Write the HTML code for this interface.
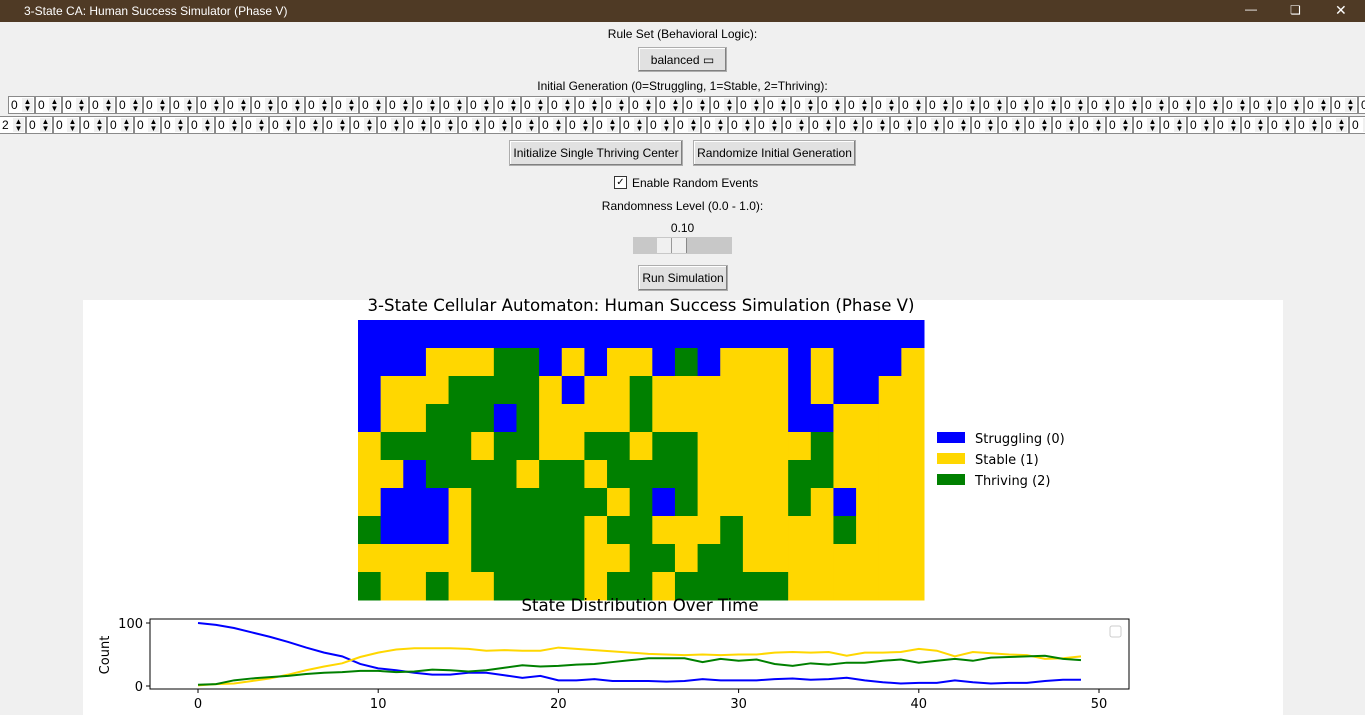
<!DOCTYPE html>
<html><head><meta charset="utf-8">
<style>
body{margin:0;width:1365px;height:715px;overflow:hidden;background:#f0f0f0;font-family:"Liberation Sans",sans-serif;font-size:12px;position:relative}
.abs{position:absolute}
.titlebar{left:0;top:0;width:1365px;height:22px;background:#4f3a25;color:#fff;font-size:12px}
.lbl{text-align:center;width:1365px;left:0;color:#000}
.btn{background:#e1e1e1;border:1px solid #adadad;box-shadow:inset -1px -1px #808080,inset 1px 1px #fff;text-align:center;box-sizing:border-box;line-height:24px}
.spin{width:27px;height:18px;box-sizing:border-box;border:1px solid #8a8a8a;background:#fff;font-size:12px;line-height:16px;padding-left:2px}
.spin span{position:absolute;right:1px;top:1px;width:11px;height:14px;background:#f0f0f0;font-size:8px;line-height:7px;text-align:center}
</style></head><body>
<div class="abs titlebar"><span class="abs" style="left:24px;top:4px">3-State CA: Human Success Simulator (Phase V)</span><span class="abs" style="left:1245px;top:2px">&#8212;</span><span class="abs" style="left:1290px;top:3px">&#10063;</span><span class="abs" style="left:1335px;top:2px;font-size:14px">&#10005;</span></div>
<div class="abs lbl" style="top:27px">Rule Set (Behavioral Logic):</div>
<div class="abs btn" style="left:638px;top:47px;width:89px;height:25px">balanced &#9645;</div>
<div class="abs lbl" style="top:79px">Initial Generation (0=Struggling, 1=Stable, 2=Thriving):</div>
<div id="spins"></div>
<div class="abs btn" style="left:509px;top:140px;width:174px;height:26px">Initialize Single Thriving Center</div>
<div class="abs btn" style="left:693px;top:140px;width:163px;height:26px">Randomize Initial Generation</div>
<div class="abs" style="left:614px;top:176px;width:11px;height:11px;border:1px solid #333;background:#fff;font-size:10px;line-height:11px;text-align:center">&#10003;</div>
<div class="abs" style="left:632px;top:176px">Enable Random Events</div>
<div class="abs lbl" style="top:199px">Randomness Level (0.0 - 1.0):</div>
<div class="abs lbl" style="top:221px">0.10</div>
<div class="abs" style="left:633px;top:237px;width:99px;height:17px;background:#c8c8c8"><div class="abs" style="left:24px;top:1px;width:29px;height:15px;background:#f0f0f0;border-right:1px solid #888;box-shadow:inset 14px 0 0 #f0f0f0,inset 15px 0 0 #999"></div></div>
<div class="abs btn" style="left:638px;top:265px;width:90px;height:26px">Run Simulation</div>
<div class="abs" style="left:83px;top:300px;width:1200px;height:415px;background:#fff"></div>
<svg class="abs" style="left:0;top:0" width="1365" height="715" id="fig" font-family="DejaVu Sans, sans-serif">
<text x="641" y="311" text-anchor="middle" font-size="16.6">3-State Cellular Automaton: Human Success Simulation (Phase V)</text>
<g id="grid"></g>
<g>
<rect x="937" y="432" width="28" height="11" fill="#0000ff"/><text x="975" y="443" font-size="13">Struggling (0)</text>
<rect x="937" y="453" width="28" height="11" fill="#ffd700"/><text x="975" y="464" font-size="13">Stable (1)</text>
<rect x="937" y="474" width="28" height="11" fill="#008000"/><text x="975" y="485" font-size="13">Thriving (2)</text>
</g>
<text x="640" y="611" text-anchor="middle" font-size="16.6">State Distribution Over Time</text>
<g id="chart"></g>
<rect x="150" y="619" width="979" height="70" fill="none" stroke="#000" stroke-width="1"/>
<rect x="1110" y="626" width="11" height="11" rx="2" fill="#fff" stroke="#ccc"/>
<text x="109" y="655" font-size="13" text-anchor="middle" transform="rotate(-90 109 655)">Count</text>
</svg>
<script>
const gridRows=[
"BBBBBBBBBBBBBBBBBBBBBBBBB",
"BBBYYYGGBYBYYBGBYYYBYBBBY",
"BYYYGGGGYBYYGYYYYYYBYBBYY",
"BYYGGGBGYYYYGYYYYYYBBYYYY",
"YGGGGYGGYYGGYGGYYYYYGYYYY",
"YYBGGGGYGGYGGGGYYYYGGYYYY",
"YBBBYGGGGGGYGBGYYYYGYBYYY",
"GBBBYGGGGGYGGYYYGYYYYGYYY",
"YYYYYGGGGGYYGGYGGYYYYYYYY",
"GYYGYYGGGGYGGYGGGGGYYYYYY"];
const stateColors={B:"#0000ff",Y:"#ffd700",G:"#008000"};
const steps=[0,1,2,3,4,5,6,7,8,9,10,11,12,13,14,15,16,17,18,19,20,21,22,23,24,25,26,27,28,29,30,31,32,33,34,35,36,37,38,39,40,41,42,43,44,45,46,47,48,49];
const struggling=[100,97,92,85,78,70,61,53,47,35,28,25,21,18,18,21,21,17,13,16,9,9,11,8,8,8,7,8,11,9,9,9,11,12,10,11,13,9,6,4,5,5,9,6,4,5,5,8,10,10];
const stable=[1,3,4,8,12,18,25,31,36,46,53,58,60,60,60,59,56,57,56,56,61,59,57,55,53,51,50,49,50,49,50,50,53,54,53,54,48,53,53,54,59,56,47,54,52,50,49,43,44,47];
const thriving=[2,3,9,12,14,16,19,21,22,24,24,22,23,26,25,23,25,29,33,31,32,34,35,38,41,44,44,44,38,43,40,42,35,32,36,34,37,37,40,42,37,40,43,40,45,46,47,48,43,41];
const xTicks=[0,10,20,30,40,50];
const yTicks=[0,100];
const NS="http://www.w3.org/2000/svg";
const sp=document.getElementById('spins');
for(let r=0;r<2;r++){for(let i=0;i<51;i++){const d=document.createElement('div');


d.className='abs spin';d.style.left=(r?-1+i*27:8+i*27)+'px';d.style.top=(r?116:96)+'px';
d.innerHTML=(r===1&&i===0?'2':'0')+'<span>&#9650;<br>&#9660;</span>';sp.appendChild(d);}}
const g=document.getElementById('grid');
const gx=358,gy=320,gw=566,gh=280;
const nc=gridRows[0].length,nr=gridRows.length;
gridRows.forEach((row,ri)=>{[...row].forEach((c,ci)=>{const x0=gx+ci*gw/nc,y0=gy+ri*gh/nr;
const r=document.createElementNS(NS,'rect');


r.setAttribute('x',x0);r.setAttribute('y',y0);r.setAttribute('width',gw/nc+0.5);r.setAttribute('height',gh/nr+0.5);r.setAttribute('fill',stateColors[c]);g.appendChild(r);});});
const X=v=>198+v*18.02, Y=v=>686-v*0.63;
const ch=document.getElementById('chart');
function mk(tag,attrs){const e=document.createElementNS(NS,tag);for(const k in attrs)e.setAttribute(k,attrs[k]);ch.appendChild(e);return e;}
xTicks.forEach(t=>{const l=mk('line',{x1:X(t),x2:X(t),y1:689,y2:693,stroke:'#000'});


const tx=mk('text',{x:X(t),y:708,'font-size':13,'text-anchor':'middle'});tx.textContent=t;

});
yTicks.forEach(t=>{const l=mk('line',{x1:146,x2:150,y1:Y(t),y2:Y(t),stroke:'#000'});


const tx=mk('text',{x:143,y:Y(t)+5,'font-size':13,'text-anchor':'end'});tx.textContent=t;

});
[[struggling,'#0000ff','struggling-line'],[stable,'#ffd700','stable-line'],[thriving,'#008000','thriving-line']].forEach(([d,c,n])=>{
const p=mk('polyline',{points:d.map((v,i)=>X(steps[i])+','+Y(v)).join(' '),fill:'none',stroke:c,'stroke-width':2});

});
</script>
</body></html>
